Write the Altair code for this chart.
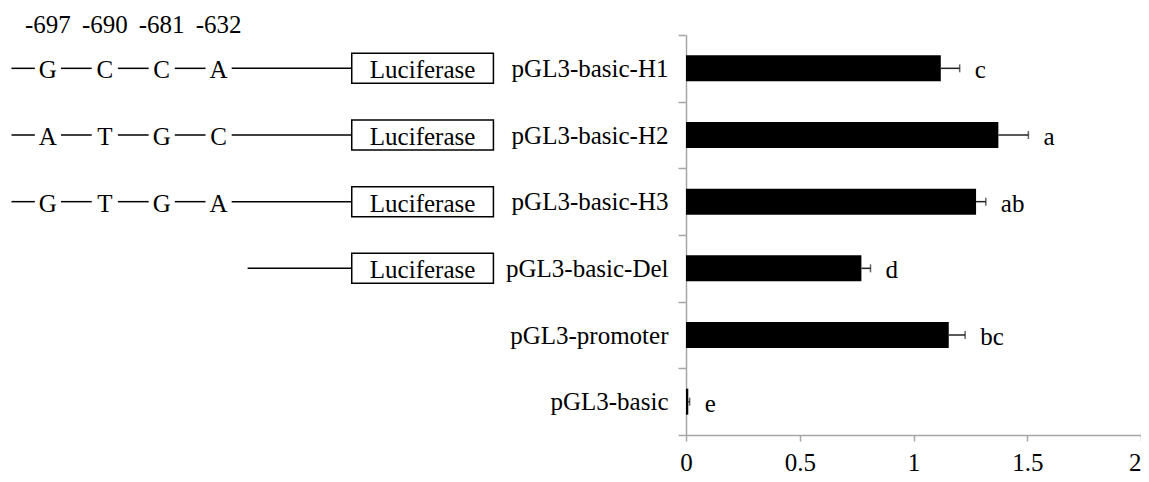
import altair as alt
import pandas as pd

# ---------------- data ----------------
constructs = ["pGL3-basic-H1", "pGL3-basic-H2", "pGL3-basic-H3",
              "pGL3-basic-Del", "pGL3-promoter", "pGL3-basic"]
activity = [1.12, 1.373, 1.275, 0.771, 1.155, 0.01]
errors = [0.083, 0.132, 0.043, 0.04, 0.072, 0.006]
sig_letters = ["c", "a", "ab", "d", "bc", "e"]

site_labels = ["-697", "-690", "-681", "-632"]
hap_rows = ["pGL3-basic-H1", "pGL3-basic-H2", "pGL3-basic-H3"]
hap_alleles = [["G", "C", "C", "A"], ["A", "T", "G", "C"], ["G", "T", "G", "A"]]
reporter_rows = ["pGL3-basic-H1", "pGL3-basic-H2", "pGL3-basic-H3", "pGL3-basic-Del"]
reporter_name = "Luciferase"

# schematic layout in diagram units (SNP sites at 1..4)
site_pos = [1, 2, 3, 4]
line_start = 0.36
gap = 0.23
del_line_start = 4.51
box_start, box_end = 6.34, 8.83

SERIF = "Liberation Serif"
FS = 25

# ---------------- tables ----------------
bars = pd.DataFrame({"construct": constructs, "activity": activity,
                     "err": errors, "sig": sig_letters})
bars["hi"] = bars["activity"] + bars["err"]

seg_rows = []
for row in hap_rows:
    starts = [line_start] + [p + gap for p in site_pos]
    ends = [p - gap for p in site_pos] + [box_start]
    for s, e in zip(starts, ends):
        seg_rows.append({"construct": row, "u0": s, "u1": e})
seg_rows.append({"construct": "pGL3-basic-Del", "u0": del_line_start, "u1": box_start})
segs = pd.DataFrame(seg_rows)

allele_rows = []
for row, alleles in zip(hap_rows, hap_alleles):
    for p, a in zip(site_pos, alleles):
        allele_rows.append({"construct": row, "u": p, "allele": a})
alleles_df = pd.DataFrame(allele_rows)

header_df = pd.DataFrame({"u": site_pos, "label": site_labels})

boxes = pd.DataFrame({"construct": reporter_rows,
                      "u0": [box_start] * len(reporter_rows),
                      "u1": [box_end] * len(reporter_rows),
                      "um": [(box_start + box_end) / 2] * len(reporter_rows),
                      "name": [reporter_name] * len(reporter_rows)})

# ---------------- encodings ----------------
y_enc = alt.Y("construct:N", sort=constructs, title=None,
              scale=alt.Scale(paddingInner=0, paddingOuter=0),
              axis=alt.Axis(tickBand="extent", tickSize=8, tickColor="#a6a6a6",
                            domainColor="#a6a6a6", domainWidth=1.5, tickWidth=1.5,
                            labelFont=SERIF, labelFontSize=FS, labelColor="black",
                            labelPadding=10, labelLimit=400, title=None))

x_scale = alt.Scale(domain=[0, 2], nice=False, zero=True)
x_axis = alt.Axis(values=[0, 0.5, 1, 1.5, 2], labelExpr="datum.value",
                  labelAlign=alt.ExprRef(expr="datum.value >= 2 ? 'right' : 'center'"),
                  grid=False, tickSize=6, tickColor="#a6a6a6", domainColor="#a6a6a6",
                  domainWidth=1.5, tickWidth=1.5, labelFont=SERIF, labelFontSize=FS,
                  labelColor="black", labelPadding=9, labelFlush=False, title=None)

def xb(field):
    return alt.X(f"{field}:Q", scale=x_scale, axis=x_axis, title=None)

diag_scale = alt.Scale(domain=[0, 10], range=[-695, -126], nice=False, zero=False)

def xd(field):
    return alt.X(f"{field}:Q", scale=diag_scale, axis=None)

# ---------------- bar part ----------------
bar = alt.Chart(bars).mark_bar(color="black", size=26).encode(x=xb("activity"), y=y_enc)
err_rule = alt.Chart(bars).mark_rule(color="#222", strokeWidth=1.5).encode(
    x=xb("activity"), x2="hi:Q", y=y_enc)
err_cap = alt.Chart(bars).mark_tick(color="#222", size=8, thickness=1.5).encode(
    x=xb("hi"), y=y_enc)
sig = alt.Chart(bars).mark_text(align="left", dx=15, dy=2, font=SERIF, fontSize=FS,
                                color="black").encode(x=xb("hi"), y=y_enc, text="sig:N")
bar_part = alt.layer(bar, err_rule, err_cap, sig)

# ---------------- schematic part ----------------
seg = alt.Chart(segs).mark_rule(color="black", strokeWidth=1.5, clip=False).encode(
    x=xd("u0"), x2="u1:Q", y=y_enc)
allele_txt = alt.Chart(alleles_df).mark_text(font=SERIF, fontSize=FS, color="black",
                                             dy=2, clip=False).encode(
    x=xd("u"), y=y_enc, text="allele:N")
header = alt.Chart(header_df).mark_text(font=SERIF, fontSize=FS, color="black",
                                        clip=False).encode(
    x=xd("u"), y=alt.value(-10), text="label:N")
box = alt.Chart(boxes).mark_bar(fill="white", stroke="black", strokeWidth=1.5, size=30,
                                clip=False).encode(x=xd("u0"), x2="u1:Q", y=y_enc)
box_txt = alt.Chart(boxes).mark_text(font=SERIF, fontSize=FS, color="black", dy=2,
                                     clip=False).encode(x=xd("um"), y=y_enc, text="name:N")
diag_part = alt.layer(seg, allele_txt, header, box, box_txt)

chart = alt.layer(bar_part, diag_part).resolve_scale(x="independent").properties(
    width=455, height=400,
    autosize=alt.AutoSizeParams(type="none"),
    padding={"left": 678, "top": 27, "right": 0, "bottom": 39},
    background="white",
).configure_view(stroke=None)

chart.save("out.html", embed_options={"renderer": "svg", "actions": False})
